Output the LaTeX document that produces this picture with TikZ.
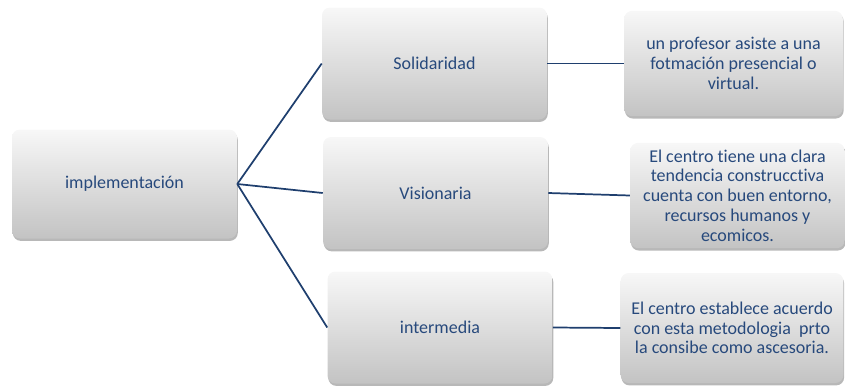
\documentclass[tikz,border=0pt]{standalone}
\usepackage{fontspec}
\setmainfont{Carlito}[Ligatures=NoCommon]
\usepackage{tikz}
\usetikzlibrary{shadows}

\definecolor{navy}{HTML}{1F3F6E}
\definecolor{txtblue}{HTML}{27497C}

\begin{document}
\begin{tikzpicture}[x=0.75pt,y=-0.75pt,
    box/.style={rounded corners=6pt,top color=gray!6,middle color=gray!9,bottom color=gray!47,
      drop shadow={shadow xshift=0.6pt,shadow yshift=-1.8pt,opacity=0.28,fill=black},
      text=txtblue,align=center,inner sep=2pt,
      font=\fontsize{13.5}{14.8}\selectfont},
    mid/.style={box,minimum width=168.75pt,minimum height=84pt},
    link/.style={-,color=navy,line width=1.3pt}]
  \useasboundingbox (0,0) rectangle (845,386);

  \draw (124.5,184) node[box,minimum width=168.75pt,minimum height=81.75pt] (impl) {implementación};

  \draw (434.5,63.5) node[mid] (solid) {Solidaridad};
  \draw (435.5,193) node[mid] (vision) {Visionaria};
  \draw (440,327.5) node[mid] (inter) {intermedia};

  \draw (733.5,63.5) node[box,minimum width=164pt,minimum height=79pt] (prof)
    {un profesor asiste a una\\fotmación presencial o\\virtual.};
  \draw (737.5,195.5) node[box,minimum width=161pt,minimum height=79pt] (centro)
    {El centro tiene una clara\\tendencia construcctiva\\cuenta con buen entorno,\\recursos humanos y\\ecomicos.};
  \draw (732,328) node[box,minimum width=167pt,minimum height=82.5pt] (acuerdo)
    {El centro establece acuerdo\\con esta metodologia\ \ prto\\la consibe como ascesoria.};

  \path[link] (impl.east) edge (solid.west);
  \path[link] (impl.east) edge (vision.west);
  \path[link] (impl.east) edge (inter.west);
  \path[link] (solid.east) edge (prof.west);
  \path[link] (vision.east) edge (centro.west);
  \path[link] (inter.east) edge (acuerdo.west);

\end{tikzpicture}
\end{document}
